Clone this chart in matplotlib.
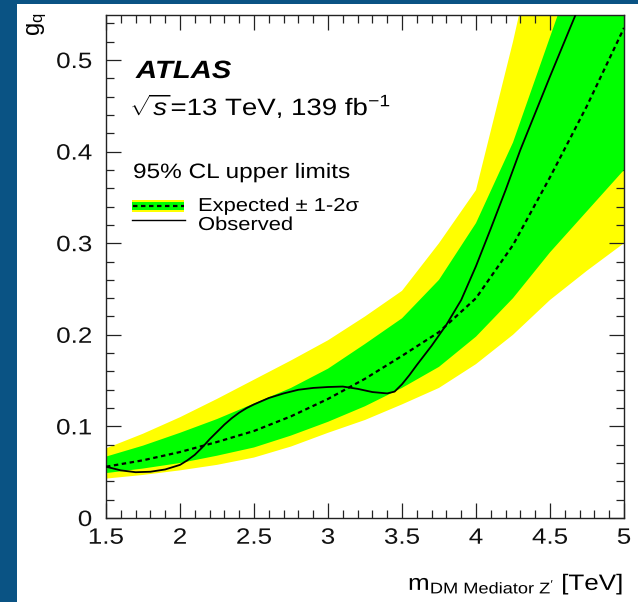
import matplotlib
matplotlib.use("Agg")
import matplotlib.pyplot as plt
from matplotlib.patches import Rectangle
from matplotlib.lines import Line2D
from matplotlib.patheffects import AbstractPathEffect
from matplotlib.transforms import Affine2D
from matplotlib.ticker import FixedLocator, MultipleLocator, FixedFormatter

plt.rcParams['font.family'] = ['Liberation Sans', 'DejaVu Sans']
plt.rcParams['mathtext.fontset'] = 'custom'
plt.rcParams['mathtext.rm'] = 'Liberation Sans'
plt.rcParams['mathtext.it'] = 'Liberation Sans:italic'
plt.rcParams['mathtext.bf'] = 'Liberation Sans:bold'

# Mediator mass grid [TeV] for the expected limit and its bands
mass = [1.5, 1.75, 2.0, 2.25, 2.5, 2.75, 3.0, 3.25, 3.5, 3.75, 4.0, 4.25, 4.5, 4.75, 5.0]
expected = [0.056, 0.063, 0.072, 0.083, 0.095, 0.111, 0.130, 0.152, 0.177, 0.203,
            0.240, 0.298, 0.372, 0.450, 0.535]
plus1 = [0.067, 0.079, 0.093, 0.108, 0.125, 0.142, 0.163, 0.190, 0.218, 0.260,
         0.322, 0.410, 0.525, 0.640, 0.750]
plus2 = [0.076, 0.092, 0.110, 0.130, 0.151, 0.172, 0.194, 0.220, 0.248, 0.300,
         0.358, 0.520, 0.700, 0.850, 1.000]
minus1 = [0.049, 0.054, 0.060, 0.068, 0.077, 0.090, 0.105, 0.122, 0.142, 0.165,
          0.198, 0.240, 0.290, 0.335, 0.380]
minus2 = [0.043, 0.047, 0.052, 0.058, 0.066, 0.078, 0.093, 0.107, 0.124, 0.142,
          0.168, 0.200, 0.238, 0.270, 0.300]

# Observed limit
obs_mass = [1.5, 1.55, 1.6, 1.7, 1.8, 1.9, 2.0, 2.05, 2.1, 2.15, 2.2, 2.25, 2.3, 2.35,
            2.4, 2.45, 2.5, 2.6, 2.7, 2.8, 2.9, 3.0, 3.1, 3.2, 3.3, 3.4, 3.45, 3.5,
            3.55, 3.6, 3.7, 3.8, 3.9, 4.0, 4.1, 4.2, 4.3, 4.4, 4.5, 4.6, 4.7, 4.8]
observed = [0.056, 0.054, 0.052, 0.050, 0.0505, 0.053, 0.058, 0.063, 0.069, 0.077,
            0.086, 0.094, 0.102, 0.109, 0.115, 0.120, 0.124, 0.131, 0.136, 0.140,
            0.142, 0.143, 0.1435, 0.141, 0.1375, 0.136, 0.138, 0.146, 0.156, 0.167,
            0.188, 0.211, 0.238, 0.275, 0.316, 0.358, 0.402, 0.442, 0.482, 0.521,
            0.560, 0.600]

x_ticks = [1.5, 2.0, 2.5, 3.0, 3.5, 4.0, 4.5, 5.0]
x_labels = ['1.5', '2', '2.5', '3', '3.5', '4', '4.5', '5']
y_ticks = [0.0, 0.1, 0.2, 0.3, 0.4, 0.5]
y_labels = ['0', '0.1', '0.2', '0.3', '0.4', '0.5']


class Widen(AbstractPathEffect):
    """Draw text glyphs widened horizontally about a chosen anchor."""

    def __init__(self, sx=1.17, anchor='left'):
        super().__init__()
        self.sx = sx
        self.anchor = anchor

    def draw_path(self, renderer, gc, tpath, affine, rgbFace=None):
        ext = tpath.get_extents()
        if self.anchor == 'center':
            x0 = 0.5 * (ext.x0 + ext.x1)
        elif self.anchor == 'right':
            x0 = ext.x1
        else:
            x0 = 0.0
        t = Affine2D().translate(-x0, 0).scale(self.sx, 1.0).translate(x0, 0) + affine
        renderer.draw_path(gc, tpath, t, rgbFace)


SX = 1.17
W, H = 638, 602
fig = plt.figure(figsize=(W / 100, H / 100), dpi=100)
fig.patch.set_facecolor('#0a5384')
# white page area
fig.add_artist(Rectangle((17 / W, 0), 1 - 17 / W, 1 - 4 / H, transform=fig.transFigure,
                         facecolor='white', edgecolor='none', zorder=0))

L, R, T, B = 106, 624, 15, 518
ax = fig.add_axes([L / W, 1 - B / H, (R - L) / W, (B - T) / H])
ax.set_xlim(1.5, 5.0)
ax.set_ylim(0.0, (B - T) / 916.0)

ax.fill_between(mass, minus2, plus2, color='#ffff00', lw=0, zorder=1)
ax.fill_between(mass, minus1, plus1, color='#00ff00', lw=0, zorder=2)
ax.plot(mass, expected, color='black', lw=1.6, ls=(0, (2.0, 1.6)), zorder=3)
ax.plot(obs_mass, observed, color='black', lw=1.3, zorder=4)

ax.xaxis.set_major_locator(FixedLocator(x_ticks))
ax.xaxis.set_major_formatter(FixedFormatter(x_labels))
ax.xaxis.set_minor_locator(MultipleLocator(0.1))
ax.yaxis.set_major_locator(FixedLocator(y_ticks))
ax.yaxis.set_major_formatter(FixedFormatter(y_labels))
ax.yaxis.set_minor_locator(MultipleLocator(0.02))
ax.tick_params(which='both', direction='in', top=True, right=True, color='#222222',
               width=0.9, labelsize=16, labelcolor='#111111')
ax.tick_params(which='major', length=11)
ax.tick_params(which='minor', length=6)
ax.tick_params(axis='x', which='major', pad=7)
ax.tick_params(axis='y', which='major', pad=10)
for s in ax.spines.values():
    s.set_color('#222222')
    s.set_linewidth(1.0)
for lbl in ax.get_xticklabels():
    lbl.set_path_effects([Widen(SX, 'center')])
for lbl in ax.get_yticklabels():
    lbl.set_path_effects([Widen(SX, 'right')])


def fx(px):
    return px / W


def fy(py):
    return 1 - py / H


def label(px, py, s, size, **kw):
    t = fig.text(fx(px), fy(py), s, fontsize=size, ha='left', va='baseline', **kw)
    t.set_path_effects([Widen(SX, 'left')])
    return t


label(136, 78, 'ATLAS', 18, fontweight='bold', fontstyle='italic')
label(130, 115, r'$\sqrt{s}$=13 TeV, 139 fb$^{-1}$', 17)
label(133, 178, '95% CL upper limits', 15)

# legend entries
fig.add_artist(Rectangle((fx(132), fy(212)), fx(184) - fx(132), fy(200) - fy(212),
                         transform=fig.transFigure, facecolor='#ffff00', edgecolor='none'))
fig.add_artist(Rectangle((fx(132), fy(210)), fx(184) - fx(132), fy(202) - fy(210),
                         transform=fig.transFigure, facecolor='#00ff00', edgecolor='none'))
fig.add_artist(Line2D([fx(133), fx(184)], [fy(206), fy(206)], transform=fig.transFigure,
                      color='black', lw=1.6, ls=(0, (2.0, 1.6))))
fig.add_artist(Line2D([fx(132), fx(185)], [fy(220), fy(220)], transform=fig.transFigure,
                      color='black', lw=1.0))
label(198, 211, 'Expected ± 1-2σ', 13.5)
label(198, 230, 'Observed', 13.5)

# axis titles
label(408, 590, r"m$_{\mathrm{DM\ Mediator\ Z'}}$ [TeV]", 16)
fig.text(fx(37), fy(12), r'g$_{\mathrm{q}}$', fontsize=17, rotation=90, ha='center',
         va='top')

fig.savefig('out.png', dpi=100, facecolor=fig.get_facecolor())
